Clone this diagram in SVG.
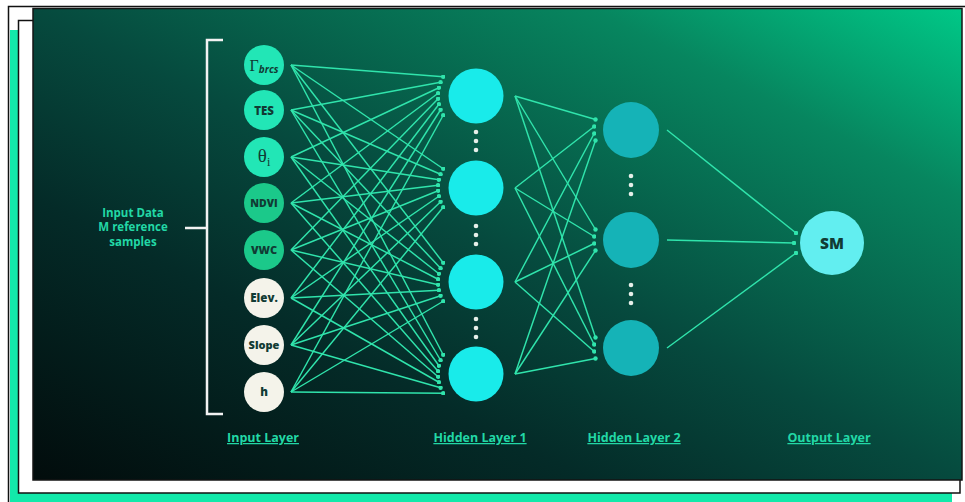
<svg xmlns="http://www.w3.org/2000/svg" width="965" height="502" viewBox="0 0 965 502">
  <defs>
    <linearGradient id="panelGrad" x1="0" y1="1" x2="1" y2="0">
      <stop offset="0" stop-color="#020c0c"/>
      <stop offset="0.3" stop-color="#042b28"/>
      <stop offset="0.5" stop-color="#064a3e"/>
      <stop offset="0.8" stop-color="#07865f"/>
      <stop offset="1" stop-color="#00c887"/>
    </linearGradient>
    <marker id="dot" viewBox="0 0 6 6" refX="3" refY="3" markerWidth="4.4" markerHeight="4.4" markerUnits="userSpaceOnUse">
      <circle cx="3" cy="3" r="3" fill="#30e4ac"/>
    </marker>
    <style>
      .edge { stroke: #30e4ac; stroke-width: 1.45; fill: none; marker-end: url(#dot); }
      .in-a { fill: #22e6b6; }
      .in-b { fill: #1bc98a; }
      .in-c { fill: #f4f3ea; }
      .h1 { fill: #19ebea; }
      .h2 { fill: #15b3b7; }
      .out { fill: #62eef0; }
      .ellipsis { fill: #e6efe9; }
      .nlabel { font-family: "Open Sans", "Liberation Sans", sans-serif; font-weight: 800; text-anchor: middle; fill: #113b34; }
      .layer { font-family: "Open Sans", "Liberation Sans", sans-serif; font-weight: 700; font-size: 12.5px; text-anchor: middle; fill: #22d8a6; text-decoration: underline; }
      .side { font-family: "Open Sans", "Liberation Sans", sans-serif; font-weight: 700; font-size: 11.5px; text-anchor: middle; fill: #22d8a6; }
    </style>
  </defs>

  <!-- stacked paper frame -->
  <rect x="8.5" y="6.5" width="970" height="500" fill="#ffffff" stroke="#111" stroke-width="1.5"/>
  <rect x="10" y="30" width="942" height="480" fill="#12e9aa"/>
  <rect x="18.5" y="20.5" width="941.5" height="472.5" fill="#ffffff" stroke="#111" stroke-width="1.5"/>
  <rect x="33" y="8.5" width="929" height="471.5" fill="url(#panelGrad)" stroke="#151515" stroke-width="1.5"/>

  <!-- input bracket and caption -->
  <g id="input-data">
    <path d="M223,40 H207 V414 H223 M207,228 H185" fill="none" stroke="#f2f2f2" stroke-width="2.5"/>
    <text class="side" x="133" y="216.5">Input Data</text>
    <text class="side" x="133" y="231">M reference</text>
    <text class="side" x="133" y="245.5">samples</text>
  </g>

  <!-- connectors -->
  <g id="connectors">
    <!-- input layer to hidden layer 1 -->
    <path class="edge" d="M291,65 L443.2,76.75"/>
    <path class="edge" d="M291,65 L443.2,168.75"/>
    <path class="edge" d="M291,65 L443.2,262.75"/>
    <path class="edge" d="M291,65 L443.2,354.75"/>
    <path class="edge" d="M291,110 L440.6,82.25"/>
    <path class="edge" d="M291,110 L440.6,174.25"/>
    <path class="edge" d="M291,110 L440.6,268.25"/>
    <path class="edge" d="M291,110 L440.6,360.25"/>
    <path class="edge" d="M291,157 L438.9,87.75"/>
    <path class="edge" d="M291,157 L438.9,179.75"/>
    <path class="edge" d="M291,157 L438.9,273.75"/>
    <path class="edge" d="M291,157 L438.9,365.75"/>
    <path class="edge" d="M291,203 L438.1,93.25"/>
    <path class="edge" d="M291,203 L438.1,185.25"/>
    <path class="edge" d="M291,203 L438.1,279.25"/>
    <path class="edge" d="M291,203 L438.1,371.25"/>
    <path class="edge" d="M291,250 L438.1,98.75"/>
    <path class="edge" d="M291,250 L438.1,190.75"/>
    <path class="edge" d="M291,250 L438.1,284.75"/>
    <path class="edge" d="M291,250 L438.1,376.75"/>
    <path class="edge" d="M291,298 L438.9,104.25"/>
    <path class="edge" d="M291,298 L438.9,196.25"/>
    <path class="edge" d="M291,298 L438.9,290.25"/>
    <path class="edge" d="M291,298 L438.9,382.25"/>
    <path class="edge" d="M291,345 L440.6,109.75"/>
    <path class="edge" d="M291,345 L440.6,201.75"/>
    <path class="edge" d="M291,345 L440.6,295.75"/>
    <path class="edge" d="M291,345 L440.6,387.75"/>
    <path class="edge" d="M291,392 L443.2,115.25"/>
    <path class="edge" d="M291,392 L443.2,207.25"/>
    <path class="edge" d="M291,392 L443.2,301.25"/>
    <path class="edge" d="M291,392 L443.2,393.25"/>
    <!-- hidden layer 1 to hidden layer 2 -->
    <path class="edge" d="M515,96 L595.5,119.5"/>
    <path class="edge" d="M515,96 L595.5,229.5"/>
    <path class="edge" d="M515,96 L595.5,337.5"/>
    <path class="edge" d="M515,188 L594.2,126.5"/>
    <path class="edge" d="M515,188 L594.2,236.5"/>
    <path class="edge" d="M515,188 L594.2,344.5"/>
    <path class="edge" d="M515,282 L594.2,133.5"/>
    <path class="edge" d="M515,282 L594.2,243.5"/>
    <path class="edge" d="M515,282 L594.2,351.5"/>
    <path class="edge" d="M515,374 L595.5,140.5"/>
    <path class="edge" d="M515,374 L595.5,250.5"/>
    <path class="edge" d="M515,374 L595.5,358.5"/>
    <!-- hidden layer 2 to output -->
    <path class="edge" d="M667,130 L796,233"/>
    <path class="edge" d="M667,240 L794,243"/>
    <path class="edge" d="M667,348 L796,253"/>
  </g>

  <!-- input layer -->
  <g id="in-rbrcs">
    <circle class="in-a" cx="264" cy="65" r="20"/>
    <text x="264" y="71" text-anchor="middle" fill="#113b34"><tspan font-family="Liberation Serif, serif" font-size="16">Γ</tspan><tspan font-family="Open Sans, Liberation Sans, sans-serif" font-style="italic" font-weight="700" font-size="10" dy="2">brcs</tspan></text>
  </g>
  <g id="in-tes">
    <circle class="in-a" cx="264" cy="110" r="20"/>
    <text class="nlabel" x="264" y="114.5" font-size="11.5">TES</text>
  </g>
  <g id="in-theta">
    <circle class="in-a" cx="264" cy="157" r="20"/>
    <text x="264" y="162" text-anchor="middle" fill="#113b34"><tspan font-family="Liberation Serif, serif" font-size="19">θ</tspan><tspan font-family="Liberation Serif, serif" font-size="12" dy="4">i</tspan></text>
  </g>
  <g id="in-ndvi">
    <circle class="in-b" cx="264" cy="203" r="20"/>
    <text class="nlabel" x="264" y="207" font-size="10.5">NDVI</text>
  </g>
  <g id="in-vwc">
    <circle class="in-b" cx="264" cy="250" r="20"/>
    <text class="nlabel" x="264" y="254" font-size="11">VWC</text>
  </g>
  <g id="in-elev">
    <circle class="in-c" cx="264" cy="298" r="20"/>
    <text class="nlabel" x="264" y="302" font-size="11.5" fill="#1d3634">Elev.</text>
  </g>
  <g id="in-slope">
    <circle class="in-c" cx="264" cy="345" r="20"/>
    <text class="nlabel" x="264" y="349" font-size="11">Slope</text>
  </g>
  <g id="in-h">
    <circle class="in-c" cx="264" cy="392" r="20"/>
    <text class="nlabel" x="264" y="396" font-size="11.5">h</text>
  </g>

  <!-- hidden layer 1 -->
  <g id="h1-1"><circle class="h1" cx="476" cy="96" r="27.5"/></g>
  <g id="h1-2"><circle class="h1" cx="476" cy="188" r="27.5"/></g>
  <g id="h1-3"><circle class="h1" cx="476" cy="282" r="27.5"/></g>
  <g id="h1-4"><circle class="h1" cx="476" cy="374" r="27.5"/></g>
  <g id="h1-ellipsis" class="ellipsis">
    <circle cx="476" cy="132" r="2.3"/><circle cx="476" cy="141" r="2.3"/><circle cx="476" cy="150" r="2.3"/>
    <circle cx="476" cy="226" r="2.3"/><circle cx="476" cy="235" r="2.3"/><circle cx="476" cy="244" r="2.3"/>
    <circle cx="476" cy="319" r="2.3"/><circle cx="476" cy="328" r="2.3"/><circle cx="476" cy="337" r="2.3"/>
  </g>

  <!-- hidden layer 2 -->
  <g id="h2-1"><circle class="h2" cx="631" cy="130" r="28"/></g>
  <g id="h2-2"><circle class="h2" cx="631" cy="240" r="28"/></g>
  <g id="h2-3"><circle class="h2" cx="631" cy="348" r="28"/></g>
  <g id="h2-ellipsis" class="ellipsis">
    <circle cx="631" cy="176" r="2.3"/><circle cx="631" cy="185" r="2.3"/><circle cx="631" cy="194" r="2.3"/>
    <circle cx="631" cy="285" r="2.3"/><circle cx="631" cy="294" r="2.3"/><circle cx="631" cy="303" r="2.3"/>
  </g>

  <!-- output -->
  <g id="out-sm">
    <circle class="out" cx="832" cy="243" r="32"/>
    <text class="nlabel" x="832" y="248.5" font-size="15.5" fill="#1b3a3a">SM</text>
  </g>

  <!-- layer captions -->
  <g id="captions">
    <text class="layer" x="263" y="442">Input Layer</text>
    <text class="layer" x="480" y="442">Hidden Layer 1</text>
    <text class="layer" x="634" y="442">Hidden Layer 2</text>
    <text class="layer" x="829" y="442">Output Layer</text>
  </g>
</svg>
